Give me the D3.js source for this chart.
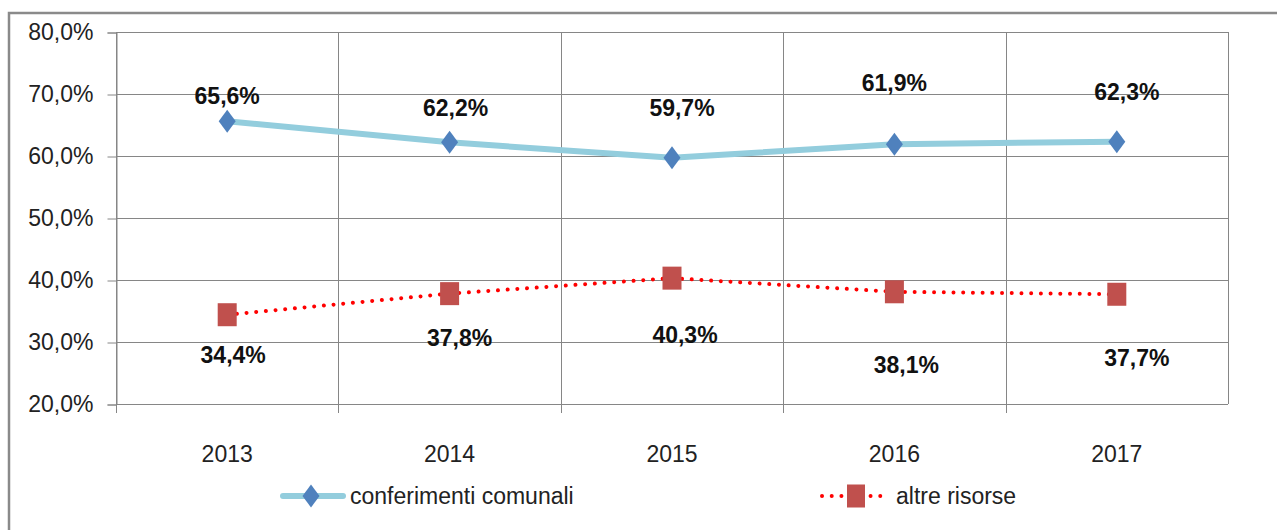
<!DOCTYPE html>
<html>
<head>
<meta charset="utf-8">
<script src="https://cdn.jsdelivr.net/npm/d3@7"></script>
<style>
  body { margin: 0; background: #fff; }
  svg { display: block; font-family: "Liberation Sans", Arial, sans-serif; }
</style>
</head>
<body>
<svg id="svg" width="1277" height="530"></svg>
<script>
// dati
var years = ["2013", "2014", "2015", "2016", "2017"];
var conferimenti = [65.6, 62.2, 59.7, 61.9, 62.3];
var altre = [34.4, 37.8, 40.3, 38.1, 37.7];
var yTicks = [20, 30, 40, 50, 60, 70, 80];

// spostamenti delle etichette (come nel grafico originale)
var blueOffsets = [[0, -25], [6, -34], [10, -50], [0, -61], [10, -50]];
var redOffsets = [[6, 40], [10, 44], [13, 57], [12, 73], [20, 64]];

var svg = d3.select("#svg");
var plotLeft = 116, plotRight = 1228, plotTop = 32, plotBottom = 404;

var x = d3.scaleBand().domain(years).range([plotLeft, plotRight]);
var y = d3.scaleLinear().domain([20, 80]).range([plotBottom, plotTop]);
var fmt = function(v) { return v.toFixed(1).replace(".", ",") + "%"; };

// cornice esterna
svg.append("path")
    .attr("d", "M9,530 L9,13 L1277,13")
    .attr("fill", "none")
    .attr("stroke", "#8a8a8a")
    .attr("stroke-width", 2.5);

// griglia orizzontale
svg.append("g")
    .selectAll("line")
    .data(yTicks)
    .enter().append("line")
    .attr("x1", plotLeft).attr("x2", plotRight)
    .attr("y1", function(d) { return Math.round(y(d)) + 0.5; })
    .attr("y2", function(d) { return Math.round(y(d)) + 0.5; })
    .attr("stroke", "#868686");

// asse y con tacche
svg.append("g")
    .attr("transform", "translate(" + (plotLeft + 0.5) + ",0.5)")
    .call(d3.axisLeft(y).tickValues(yTicks).tickSize(9).tickFormat(fmt).tickPadding(14))
    .call(function(g) {
        g.select(".domain").attr("stroke", "#868686");
        g.selectAll(".tick line").attr("stroke", "#868686");
        g.selectAll(".tick text").attr("fill", "#222").style("font-size", "23px")
            .style("font-family", "Liberation Sans, Arial, sans-serif");
    });

// griglia verticale ai bordi delle categorie
var bounds = years.map(function(d) { return x(d); }).concat([plotRight]);
svg.append("g")
    .selectAll("line")
    .data(bounds)
    .enter().append("line")
    .attr("x1", function(d) { return Math.round(d) + 0.5; })
    .attr("x2", function(d) { return Math.round(d) + 0.5; })
    .attr("y1", plotTop)
    .attr("y2", function(d, i) { return i == bounds.length - 1 ? plotBottom : plotBottom + 9; })
    .attr("stroke", "#868686");

// etichette anni
svg.append("g")
    .selectAll("text")
    .data(years)
    .enter().append("text")
    .attr("x", function(d) { return x(d) + x.bandwidth() / 2; })
    .attr("y", 462)
    .attr("text-anchor", "middle")
    .attr("fill", "#222")
    .style("font-size", "23px")
    .text(function(d) { return d; });

var cx = function(d, i) { return x(years[i]) + x.bandwidth() / 2; };
var line = d3.line().x(function(d, i) { return cx(d, i); }).y(function(d) { return y(d); });

// serie conferimenti comunali
svg.append("path")
    .datum(conferimenti)
    .attr("d", line)
    .attr("fill", "none")
    .attr("stroke", "#93cddd")
    .attr("stroke-width", 6);

var diamond = function(px, py) {
    return "M" + px + "," + (py - 11.5) + "L" + (px + 8.5) + "," + py + "L" + px + "," + (py + 11.5) + "L" + (px - 8.5) + "," + py + "Z";
};

svg.append("g")
    .selectAll("path")
    .data(conferimenti)
    .enter().append("path")
    .attr("d", function(d, i) { return diamond(cx(d, i), y(d)); })
    .attr("fill", "#4f81bd");

// serie altre risorse
svg.append("path")
    .datum(altre)
    .attr("d", line)
    .attr("fill", "none")
    .attr("stroke", "#ff0000")
    .attr("stroke-width", 4)
    .attr("stroke-linecap", "round")
    .attr("stroke-dasharray", "0.01 9.7");

svg.append("g")
    .selectAll("rect")
    .data(altre)
    .enter().append("rect")
    .attr("x", function(d, i) { return cx(d, i) - 9.5; })
    .attr("y", function(d) { return y(d) - 11.5; })
    .attr("width", 19)
    .attr("height", 23)
    .attr("fill", "#c0504d");

// etichette valori
svg.append("g")
    .selectAll("text")
    .data(conferimenti)
    .enter().append("text")
    .attr("x", function(d, i) { return cx(d, i) + blueOffsets[i][0]; })
    .attr("y", function(d, i) { return y(d) + blueOffsets[i][1]; })
    .attr("dy", "0.35em")
    .attr("text-anchor", "middle")
    .attr("font-weight", "bold")
    .attr("fill", "#111")
    .style("font-size", "23px")
    .text(fmt);

svg.append("g")
    .selectAll("text")
    .data(altre)
    .enter().append("text")
    .attr("x", function(d, i) { return cx(d, i) + redOffsets[i][0]; })
    .attr("y", function(d, i) { return y(d) + redOffsets[i][1]; })
    .attr("dy", "0.35em")
    .attr("text-anchor", "middle")
    .attr("font-weight", "bold")
    .attr("fill", "#111")
    .style("font-size", "23px")
    .text(fmt);

// legenda
var legend = svg.append("g");
legend.append("line")
    .attr("x1", 283).attr("x2", 343).attr("y1", 496).attr("y2", 496)
    .attr("stroke", "#93cddd").attr("stroke-width", 6).attr("stroke-linecap", "round");
legend.append("path")
    .attr("d", diamond(311, 496))
    .attr("fill", "#4f81bd");
legend.append("text")
    .attr("x", 350).attr("y", 496).attr("dy", "0.35em")
    .attr("fill", "#222").style("font-size", "23px")
    .text("conferimenti comunali");

legend.append("line")
    .attr("x1", 822).attr("x2", 886).attr("y1", 496).attr("y2", 496)
    .attr("stroke", "#ff0000").attr("stroke-width", 4)
    .attr("stroke-linecap", "round").attr("stroke-dasharray", "0.01 9.7");
legend.append("rect")
    .attr("x", 847).attr("y", 484.5).attr("width", 18).attr("height", 23)
    .attr("fill", "#c0504d");
legend.append("text")
    .attr("x", 896).attr("y", 496).attr("dy", "0.35em")
    .attr("fill", "#222").style("font-size", "23px")
    .text("altre risorse");
</script>
</body>
</html>
